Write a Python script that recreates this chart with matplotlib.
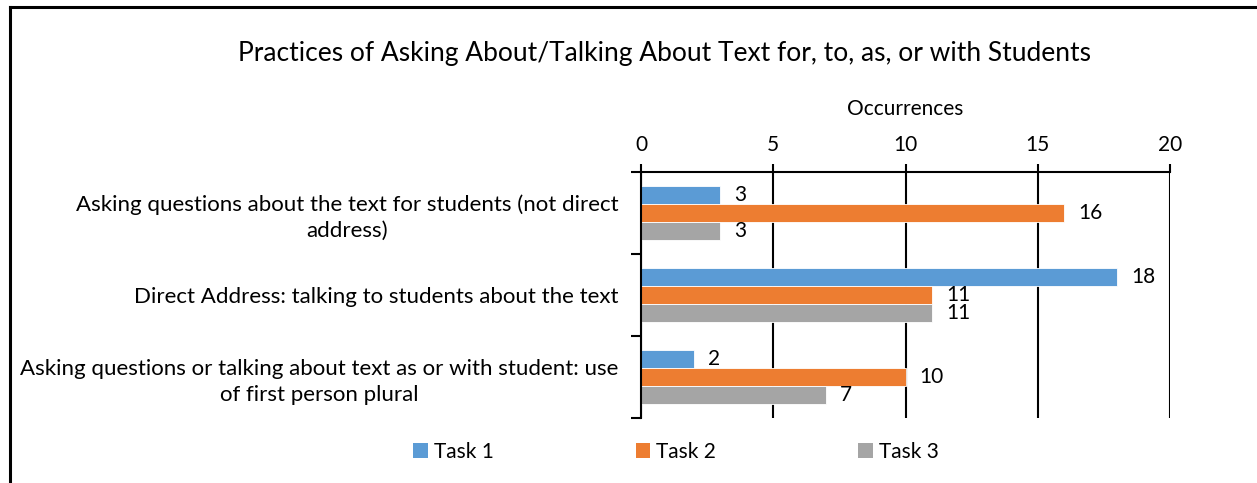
import matplotlib.pyplot as plt
import numpy as np
from matplotlib.lines import Line2D
from matplotlib.patches import Patch

plt.rcParams.update({'font.family': ['Lato', 'DejaVu Sans']})

categories = ['Asking questions about the text for students (not direct\naddress)',
              'Direct Address: talking to students about the text',
              'Asking questions or talking about text as or with student: use\nof first person plural']
series = ['Task 1', 'Task 2', 'Task 3']
task1 = [3, 18, 2]
task2 = [16, 11, 10]
task3 = [3, 11, 7]
colors = ['#5B9BD5', '#ED7D31', '#A5A5A5']

W, H = 1257, 483
fig = plt.figure(figsize=(W / 100, H / 100), dpi=100)
ax = fig.add_axes([641 / W, 1 - 418 / H, (1170 - 641) / W, (418 - 172) / H])

y = np.arange(len(categories))
h = 0.223
for k, (vals, c, name) in enumerate(zip([task1, task2, task3], colors, series)):
    bars = ax.barh(y + (k - 1) * h, vals, height=h, color=c, edgecolor='white',
                   linewidth=0.6, label=name, zorder=2)
    ax.bar_label(bars, padding=10, fontsize=15, color='black')

ax.set_ylim(len(categories) - 0.5, -0.5)
ax.set_xlim(0, 20)
ax.set_xticks([0, 5, 10, 15, 20])
ax.xaxis.tick_top()
ax.xaxis.set_label_position('top')
ax.set_xlabel('Occurrences', fontsize=15, labelpad=15)
ax.tick_params(axis='x', direction='out', length=6, width=1.5, labelsize=15, pad=6)

# category names at the centres, tick marks at the boundaries
ax.set_yticks(y)
ax.set_yticklabels(categories, fontsize=16, multialignment='center', linespacing=1.35)
ax.tick_params(axis='y', which='major', length=0, pad=16)
ax.set_yticks(np.arange(len(categories) + 1) - 0.5, minor=True)
ax.tick_params(axis='y', which='minor', direction='out', length=7, width=1.5)

ax.grid(axis='x', color='black', linewidth=1.5, zorder=1)
ax.set_axisbelow(True)
for s in ['right', 'bottom']:
    ax.spines[s].set_visible(False)
for s in ['top', 'left']:
    ax.spines[s].set_linewidth(1.5)
    ax.spines[s].set_zorder(3)

fig.text(665 / W, 1 - 54 / H, 'Practices of Asking About/Talking About Text for, to, as, or with Students',
         ha='center', va='center', fontsize=19)

handles = [Patch(facecolor=c) for c in colors]
fig.legend(handles, series, loc='center', bbox_to_anchor=(676 / W, 1 - 452 / H), ncol=3,
           frameon=False, fontsize=15, handlelength=0.7, handleheight=0.7,
           handletextpad=0.3, columnspacing=6.8)

# chart frame
fig.add_artist(Line2D([10 / W, 10 / W], [0, 1 - 7 / H], color='black', lw=2.2))
fig.add_artist(Line2D([10 / W, 1], [1 - 7 / H, 1 - 7 / H], color='black', lw=2.2))

fig.savefig('out.png', dpi=100)
